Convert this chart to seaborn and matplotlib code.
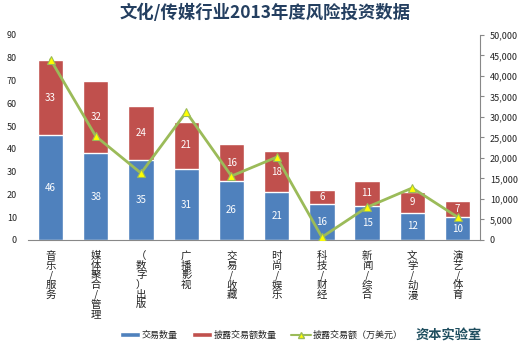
import numpy as np
import pandas as pd
import matplotlib
matplotlib.use("Agg")
import matplotlib.pyplot as plt
import seaborn as sns
from matplotlib.lines import Line2D
from matplotlib.patches import Patch
from matplotlib.ticker import FuncFormatter, MultipleLocator

categories = ["音乐/服务", "媒体聚合/管理", "（数字）出版", "广播影视", "交易/收藏",
              "时尚/娱乐", "科技/财经", "新闻/综合", "文学/动漫", "演艺/体育"]
deal_count = [46, 38, 35, 31, 26, 21, 16, 15, 12, 10]
disclosed_count = [33, 32, 24, 21, 16, 18, 6, 11, 9, 7]
disclosed_amount = [44000, 25300, 16300, 31200, 15600, 20200, 700, 8000, 12700, 5600]

sns.set_theme(style="white")
plt.rcParams['font.family'] = ['Noto Sans CJK SC', 'DejaVu Sans']

BLUE = "#4F81BD"
RED = "#C0504D"
GREEN = "#9BBB59"

df = pd.DataFrame({"cat": categories, "count": deal_count, "disc": disclosed_count})
df["total"] = df["count"] + df["disc"]

fig = plt.figure(figsize=(5.23, 3.43), dpi=100)
ax = fig.add_axes([0.0535, 0.3003, 0.8645, 0.5977])

sns.barplot(data=df, x="cat", y="total", color=RED, saturation=1, width=0.56, ax=ax)
sns.barplot(data=df, x="cat", y="count", color=BLUE, saturation=1, width=0.56, ax=ax)

for i, (c, d) in enumerate(zip(deal_count, disclosed_count)):
    ax.text(i, c / 2, str(c), ha="center", va="center", color="white", fontsize=7)
    ax.text(i, c + d / 2, str(d), ha="center", va="center", color="white", fontsize=7)

ax.set_ylim(0, 90)
ax.set_xlim(-0.5, 9.5)
ax.yaxis.set_major_locator(MultipleLocator(10))
ax.set_xlabel("")
ax.set_ylabel("")
ax.set_xticks(range(len(categories)))
ax.set_xticklabels(["\n".join(list(c)) for c in categories], fontsize=7.5,
                   va="top", linespacing=0.95)
ax.tick_params(axis="y", labelsize=6.5, length=0, pad=8, colors="#222222")
ax.tick_params(axis="x", length=0, pad=8, colors="#222222")
for s in ["top", "left", "right"]:
    ax.spines[s].set_visible(False)
ax.spines["bottom"].set_color("#888888")
ax.spines["bottom"].set_linewidth(0.8)

ax2 = ax.twinx()
sns.lineplot(x=np.arange(len(categories)), y=disclosed_amount, ax=ax2, color=GREEN,
             linewidth=2, marker="^", markersize=6, markerfacecolor="#FFFF00",
             markeredgecolor="#9BBB59", markeredgewidth=0.8)
ax2.set_ylim(0, 50000)
ax2.set_xlim(-0.5, 9.5)
ax2.yaxis.set_major_locator(MultipleLocator(5000))
ax2.yaxis.set_major_formatter(FuncFormatter(lambda v, p: f"{int(v):,}"))
ax2.tick_params(axis="y", labelsize=6.5, length=3, direction="out", colors="#222222",
                color="#888888", width=0.8, pad=4)
for s in ["top", "left", "bottom"]:
    ax2.spines[s].set_visible(False)
ax2.spines["right"].set_color("#888888")
ax2.spines["right"].set_linewidth(0.8)
ax2.set_ylabel("")

fig.text(0.507, 0.964, "文化/传媒行业2013年度风险投资数据", ha="center", va="center",
         fontsize=12.5, fontweight="bold", color="#243F60")

handles = [Patch(facecolor=BLUE, label="交易数量"),
           Patch(facecolor=RED, label="披露交易额数量"),
           Line2D([0], [0], color=GREEN, lw=1.5, marker="^", markersize=5,
                  markerfacecolor="#FFFF00", markeredgecolor=GREEN, label="披露交易额（万美元）")]
fig.legend(handles=handles, loc="center", bbox_to_anchor=(0.50, 0.023), ncol=3, frameon=False,
           fontsize=6.5, handlelength=2.2, handleheight=0.6, columnspacing=1.6,
           handletextpad=0.2)

fig.text(0.857, 0.023, "资本实验室", ha="center", va="center", fontsize=9.5,
         fontweight="bold", color="#1F4E5F")

fig.savefig("out.png", dpi=100)
